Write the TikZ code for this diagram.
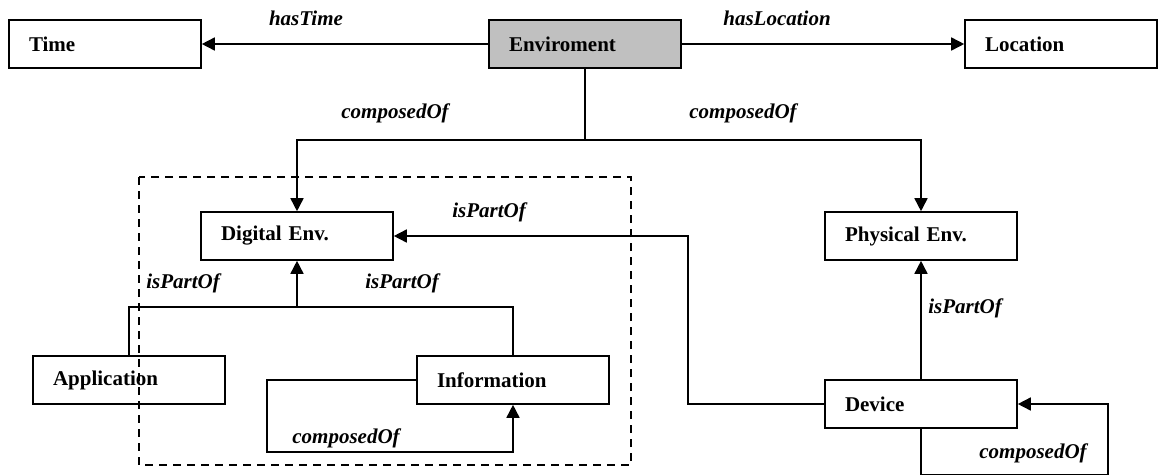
\documentclass[tikz,border=0pt]{standalone}
\usepackage{fontspec}
\setmainfont{Liberation Serif}
\usetikzlibrary{arrows.meta}
\tikzset{
  box/.style={draw=black, line width=1.6pt, minimum width=192pt, minimum height=48pt,
    inner xsep=20pt, inner ysep=0pt, text width=152pt, align=left,
    font=\fontsize{21}{24}\selectfont\bfseries},
  conn/.style={draw=black, line width=1.6pt},
  arr/.style={conn, -{Triangle[length=13pt,width=13pt]}},
  lbl/.style={anchor=base, inner sep=0pt, font=\fontsize{21}{24}\selectfont\bfseries\itshape},
  dashbox/.style={draw=black, line width=1.5pt, dash pattern=on 8pt off 6pt}
}
\begin{document}
\begin{tikzpicture}[x=1pt,y=-1pt]
\useasboundingbox (0,0) rectangle (1159,475);
% dashed group
\draw[dashbox] (139,177) rectangle (631,465);
% boxes
\node[box] (time) at (105,44) {Time};
\node[box, fill={rgb,255:red,192;green,192;blue,192}] (env) at (585,44) {Enviroment};
\node[box] (loc) at (1061,44) {Location};
\node[box] (dig) at (297,236) {Digital Env.};
\node[box] (phys) at (921,236) {Physical Env.};
\node[box] (app) at (129,380) {Application};
\node[box] (info) at (513,380) {Information};
\node[box] (dev) at (921,404) {Device};
% junctions
\coordinate (j) at (585,140);
\coordinate (k) at (297,307);
\coordinate (l) at (267,452);
\coordinate (m) at (1108,474.5);
\coordinate (n) at (688,236);
% connectors
\draw[arr] (env) -- (time);
\draw[arr] (env) -- (loc);
\draw[conn] (env.south) -- (j);
\draw[arr] (j) -| (dig.north);
\draw[arr] (j) -| (phys.north);
\draw[arr] (dev.west) -| (n) -- (dig.east);
\draw[conn] (app.north) |- (k);
\draw[conn] (info.north) |- (k);
\draw[arr] (k) -- (dig.south);
\draw[arr] (info.west) -| (l) -| (info.south);
\draw[arr] (dev.north) -- (phys.south);
\draw[arr] (dev.south) |- (m) |- (dev.east);
% labels
\node[lbl] (l1) at (306,25) {hasTime};
\node[lbl] (l2) at (777,25) {hasLocation};
\node[lbl] (l3) at (395,118) {composedOf};
\node[lbl] (l4) at (743,118) {composedOf};
\node[lbl] (l5) at (489,217) {isPartOf};
\node[lbl] (l6) at (183,288) {isPartOf};
\node[lbl] (l7) at (402,288) {isPartOf};
\node[lbl] (l8) at (346,443) {composedOf};
\node[lbl] (l9) at (965,313) {isPartOf};
\node[lbl] (l10) at (1033,458) {composedOf};
\end{tikzpicture}
\end{document}
